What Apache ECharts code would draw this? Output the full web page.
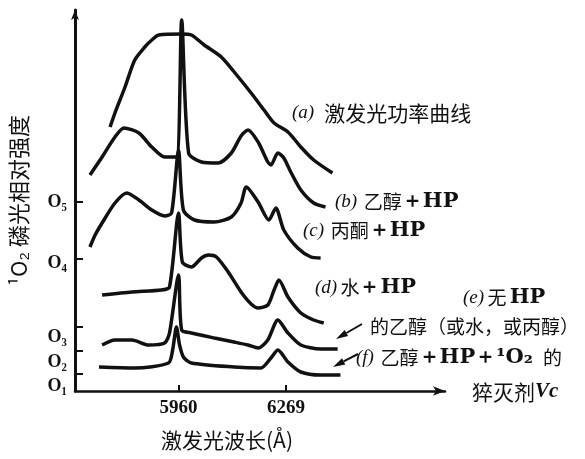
<!DOCTYPE html>
<html>
<head>
<meta charset="utf-8">
<script src="https://cdn.jsdelivr.net/npm/echarts@6/dist/echarts.min.js"></script>
<style>
  html, body { margin: 0; background: #fff; }
  #chart { width: 585px; height: 459px; }
</style>
</head>
<body>
<div id="chart"></div>
<script>
// wavelength (Å), relative intensity (arbitrary units above the baseline)
const curveA = [[5763, 264], [5777, 278], [5806, 304], [5834, 331], [5863, 344], [5883, 351], [5903, 356], [5969, 357], [5997, 356], [6034, 346], [6083, 334], [6132, 314], [6169, 298], [6206, 281], [6235, 268], [6275, 259], [6312, 244], [6349, 231], [6403, 218]]
const curveB = [[5705, 216], [5740, 234], [5777, 254], [5803, 263], [5846, 258], [5883, 244], [5920, 234], [5954, 234], [5969, 371], [5989, 238], [6026, 229], [6074, 228], [6112, 238], [6140, 255], [6160, 261], [6189, 249], [6217, 229], [6226, 226], [6246, 238], [6263, 233], [6283, 219], [6312, 201], [6349, 188], [6383, 184]]
const curveC = [[5705, 144], [5720, 156], [5740, 168], [5777, 188], [5811, 198], [5846, 191], [5883, 181], [5920, 175], [5940, 178], [5960, 241], [5974, 181], [6006, 171], [6063, 169], [6112, 174], [6140, 188], [6155, 204], [6189, 189], [6220, 171], [6240, 183], [6263, 161], [6303, 143], [6341, 134], [6369, 133]]
const curveD = [[5740, 96], [5826, 99], [5911, 101], [5934, 104], [5960, 178], [5971, 129], [5997, 124], [6026, 133], [6046, 136], [6069, 134], [6103, 119], [6140, 99], [6169, 87], [6189, 83], [6217, 86], [6235, 101], [6249, 111], [6275, 94], [6312, 78], [6349, 71], [6378, 68]]
const curveE = [[5740, 46], [5777, 51], [5826, 51], [5874, 46], [5920, 48], [5934, 58], [5960, 116], [5969, 61], [5997, 58], [6063, 53], [6120, 49], [6160, 46], [6189, 43], [6217, 51], [6246, 71], [6275, 58], [6312, 46], [6369, 42], [6418, 42]]
const curveF = [[5731, 24], [5834, 23], [5931, 28], [5943, 41], [5954, 64], [5963, 46], [5974, 34], [5997, 28], [6120, 24], [6197, 23], [6226, 33], [6246, 41], [6275, 29], [6312, 19], [6369, 16], [6426, 16]]

const xTickValues = [5960, 6269]
const yTickValues = [17, 40, 64, 132, 189]
const yLabelValues = [5, 29, 54, 128, 189]
const yLabels = ['O₁', 'O₂', 'O₃', 'O₄', 'O₅']

const seriesNames = ['a', 'b', 'c', 'd', 'e', 'f']
const curves = [curveA, curveB, curveC, curveD, curveE, curveF]

const CN = '"Noto Sans CJK SC", sans-serif'
const SERIF = '"Liberation Serif", "DejaVu Serif", serif'
const rich = {
  i: { fontFamily: SERIF, fontStyle: 'italic', fontSize: 19, fill: '#111' },
  c: { fontFamily: CN, fontSize: 19, fill: '#111' },
  w: { fontFamily: CN, fontSize: 21, fill: '#111' },
  l: { fontFamily: '"DejaVu Serif", serif', fontWeight: 'bold', fontSize: 21, fill: '#111' },
  v: { fontFamily: SERIF, fontWeight: 'bold', fontStyle: 'italic', fontSize: 21, fill: '#111' },
}

// curve captions
const captions = [
  { text: '{i|(a)}   {w|激发光功率曲线}', x: 292, y: 113 },
  { text: '{i|(b)}  {c|乙醇}{l|＋HP}', x: 335, y: 202 },
  { text: '{i|(c)}  {c|丙酮}{l|＋HP}', x: 303, y: 231 },
  { text: '{i|(d)} {c|水}{l|＋HP}', x: 315, y: 288 },
  { text: '{i|(e)} {c|无} {l|HP}', x: 463, y: 298 },
  { text: '{c|的乙醇（或水，或丙醇）}', x: 370, y: 327 },
  { text: '{i|(f)}  {c|乙醇}{l|＋HP＋¹O₂}   {c|的}', x: 356, y: 358 },
  { text: '{w|猝灭剂}{v|Vc}', x: 472, y: 392 },
]

const chart = echarts.init(document.getElementById('chart'), null, { renderer: 'canvas' })

const graphic = captions.map((c) => ({
  type: 'text',
  x: c.x,
  y: c.y,
  style: { text: c.text, rich, verticalAlign: 'middle', fill: '#111' },
}))

// two pointer arrows towards curves e and f
const arrows = [[[362, 324], [336, 339]], [[358, 354], [333, 367]]]
arrows.forEach(([from, to]) => {
  const dx = to[0] - from[0], dy = to[1] - from[1]
  const len = Math.hypot(dx, dy), ux = dx / len, uy = dy / len
  const bx = to[0] - ux * 12, by = to[1] - uy * 12
  graphic.push({ type: 'polyline', shape: { points: [from, [bx, by]] }, style: { stroke: '#111', lineWidth: 2 } })
  graphic.push({
    type: 'polygon',
    shape: { points: [to, [bx - uy * 3.5, by + ux * 3.5], [bx + uy * 3.5, by - ux * 3.5]] },
    style: { fill: '#111' },
  })
})

chart.setOption({
  backgroundColor: '#fff',
  animation: false,
  grid: { left: 73, right: 140, top: 10, bottom: 68 },
  xAxis: {
    type: 'value',
    min: 5662,
    max: 6727,
    name: '激发光波长(Å)',
    nameLocation: 'middle',
    nameGap: 39,
    nameTextStyle: { fontFamily: CN, fontSize: 21, color: '#111', padding: [0, 66, 0, 0] },
    axisLine: { lineStyle: { color: '#111', width: 2.5 }, symbol: ['none', 'arrow'], symbolSize: [7, 12] },
    axisTick: { show: true, inside: true, length: 6, lineStyle: { color: '#111', width: 2 }, customValues: xTickValues },
    axisLabel: {
      customValues: xTickValues,
      formatter: (v) => String(v),
      color: '#111',
      fontFamily: SERIF,
      fontWeight: 'bold',
      fontSize: 19,
      margin: 8,
    },
    splitLine: { show: false },
  },
  yAxis: {
    type: 'value',
    min: 0,
    max: 381,
    name: '¹O₂ 磷光相对强度',
    nameLocation: 'middle',
    nameRotate: 90,
    nameGap: 45,
    nameTextStyle: { fontFamily: CN, fontSize: 22, color: '#111' },
    axisLine: { show: true, lineStyle: { color: '#111', width: 3 }, symbol: ['none', 'arrow'], symbolSize: [6, 10] },
    axisTick: { show: true, inside: true, length: 8, lineStyle: { color: '#111', width: 2 }, customValues: yTickValues },
    axisLabel: {
      customValues: yLabelValues,
      formatter: (v) => yLabels[yLabelValues.indexOf(v)] || '',
      color: '#111',
      fontFamily: SERIF,
      fontWeight: 'bold',
      fontSize: 18,
      margin: 8,
    },
    splitLine: { show: false },
  },
  series: curves.map((data, k) => ({
    name: seriesNames[k],
    type: 'line',
    data,
    smooth: 0.25,
    showSymbol: false,
    lineStyle: { color: '#111', width: 3.5 },
  })),
  graphic,
})
</script>
</body>
</html>
